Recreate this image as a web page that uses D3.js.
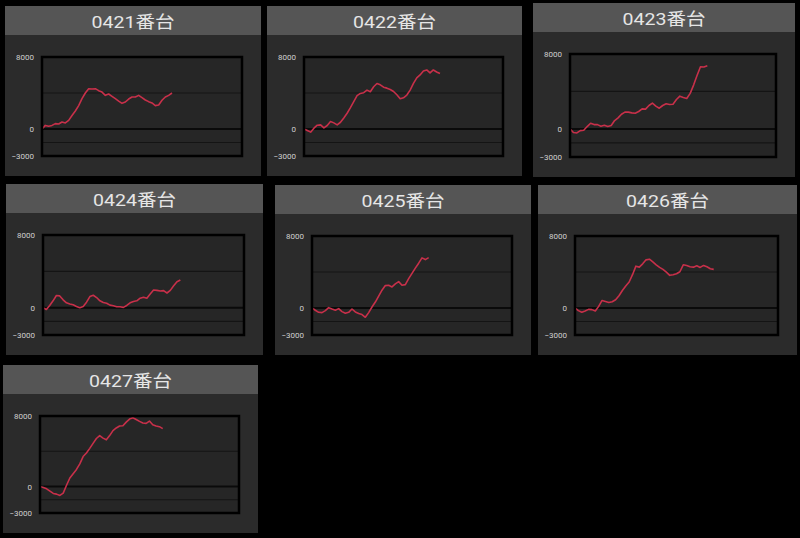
<!doctype html>
<html>
<head>
<meta charset="utf-8">
<style>
    body { margin: 0; background: #000; }
    svg { display: block; }
</style>
<script src="https://d3js.org/d3.v7.min.js"></script>
</head>
<body>
<script>
    // machine numbers / panel titles
    var titles = ["0421番台", "0422番台", "0423番台", "0424番台", "0425番台", "0426番台", "0427番台"];

    // y ticks shown at the left, and the horizontal lines inside the plot
    var yTicks = [8000, 0, -3000];
    var gridValues = [4000, 0, -1500];

    // slump values, one sample per step
    var s0421 = [0, 400, 300, 400, 600, 550, 780, 670, 960, 1500, 2000, 2600, 3370, 4000, 4480, 4440, 4480, 4260, 4100, 3740,
                 3890, 3630, 3370, 3100, 2850, 3000, 3330, 3550, 3550, 3740, 3480, 3220, 3040, 2890, 2600, 2670, 3190, 3550, 3740, 4000];
    var s0422 = [0, -170, -350, 90, 420, 460, 130, 390, 830, 680, 460, 750, 1230, 1750, 2370, 3030, 3700, 3950, 4030, 4320,
                 4140, 4690, 5060, 4910, 4650, 4540, 4390, 4170, 3800, 3360, 3470, 3770, 4320, 5060, 5680, 6010, 6450, 6560, 6230, 6560, 6340, 6160];
    var s0423 = [0, -390, -430, -180, -140, 250, 610, 460, 460, 290, 390, 250, 360, 890, 1180, 1570, 1790, 1790, 1710, 1680,
                 1860, 2140, 2110, 2500, 2750, 2430, 2210, 2500, 2680, 2610, 2640, 3140, 3500, 3360, 3250, 3790, 4680, 5710, 6640, 6610, 6750];
    var s0424 = [0, -200, 250, 760, 1350, 1300, 870, 540, 400, 320, 140, 0, 140, 610, 1230, 1370, 1120, 760, 580, 500,
                 290, 220, 110, 110, 40, 250, 540, 690, 760, 1050, 1160, 1050, 1520, 1950, 1910, 1840, 1880, 1620, 1910, 2420, 2850, 3050];
    var s0425 = [0, -250, -480, -510, -290, 40, -110, -250, -70, -400, -590, -480, -110, -440, -620, -730, -1030, -510, 110, 660,
                 1320, 1980, 2490, 2530, 2340, 2670, 2930, 2530, 2600, 3260, 3850, 4430, 4980, 5570, 5380, 5600];
    var s0426 = [0, -290, -480, -330, -150, -180, -330, 180, 840, 730, 620, 700, 920, 1360, 1940, 2450, 2890, 3700, 4650, 4540,
                 4910, 5350, 5420, 5130, 4800, 4510, 4290, 3990, 3630, 3700, 3810, 4030, 4800, 4730, 4580, 4540, 4690, 4510, 4730, 4580, 4360, 4290];
    var s0427 = [0, -100, -260, -520, -780, -860, -1010, -750, 150, 970, 1460, 1940, 2570, 3400, 3810, 4330, 4890, 5450, 5780, 5490,
                 5300, 5780, 6340, 6640, 6870, 6900, 7310, 7650, 7800, 7610, 7390, 7200, 7160, 7430, 7010, 6870, 6790, 6570];

    var series = [s0421, s0422, s0423, s0424, s0425, s0426, s0427];
    var xSteps = 60;

    // panel boxes on the screen: x, y, width, height
    var boxes = [
        [5, 6, 256, 170],
        [267, 6, 255, 170],
        [533, 3, 262, 174],
        [6, 184, 257, 171],
        [275, 185, 256, 170],
        [538, 185, 259, 170],
        [3, 365, 255, 168]
    ];

    var svg = d3.select("body").append("svg")
        .attr("width", 800)
        .attr("height", 538);

    svg.append("rect")
        .attr("width", 800)
        .attr("height", 538)
        .attr("fill", "#000");

    var headerH = 29;

    boxes.forEach(function(b, k) {
        var g = svg.append("g")
            .attr("transform", "translate(" + b[0] + "," + b[1] + ")");
        var w = b[2], h = b[3];

        g.append("rect")
            .attr("width", w)
            .attr("height", h)
            .attr("fill", "#2b2b2b");

        g.append("rect")
            .attr("width", w)
            .attr("height", headerH)
            .attr("fill", "#555555");

        // the screenshot is a bit stretched sideways, so widen the title
        g.append("text")
            .attr("transform", "translate(" + (w / 2) + "," + (headerH / 2 + 1) + ") scale(1.15,1)")
            .attr("text-anchor", "middle")
            .attr("dominant-baseline", "central")
            .attr("fill", "#e6e6e6")
            .style("font", "17px Roboto, 'Noto Sans CJK JP', sans-serif")
            .text(titles[k]);

        var left = 37, right = w - 19, top = 51, bottom = h - 20;

        var x = d3.scaleLinear().domain([0, xSteps]).range([left, right]);
        var y = d3.scaleLinear().domain([-3000, 8000]).range([bottom, top]);

        g.append("rect")
            .attr("x", left)
            .attr("y", top)
            .attr("width", right - left)
            .attr("height", bottom - top)
            .attr("fill", "#262626");

        g.selectAll(".grid")
            .data(gridValues)
            .enter()
            .append("line")
                .attr("class", "grid")
                .attr("x1", left)
                .attr("x2", right)
                .attr("y1", function(d) { return y(d); })
                .attr("y2", function(d) { return y(d); })
                .attr("stroke", function(d) { return d == 0 ? "#0a0a0a" : "#141414"; })
                .attr("stroke-width", function(d) { return d == 0 ? 2 : 1.2; });

        // y labels
        var axis = g.append("g")
            .attr("transform", "translate(" + (left - 3) + ",0)")
            .call(d3.axisLeft(y).tickValues(yTicks).tickFormat(d3.format("d")).tickSize(0).tickPadding(5));
        axis.select(".domain").remove();
        axis.selectAll("text")
            .attr("fill", "#d0d0d0")
            .style("font", "8px Roboto, sans-serif");

        g.append("path")
            .datum(series[k])
            .attr("fill", "none")
            .attr("stroke", "#c8304a")
            .attr("stroke-width", 1.6)
            .attr("stroke-linejoin", "round")
            .attr("d", d3.line()
                .x(function(d, i) { return x(i); })
                .y(function(d) { return y(d); }));

        g.append("rect")
            .attr("x", left)
            .attr("y", top)
            .attr("width", right - left)
            .attr("height", bottom - top)
            .attr("fill", "none")
            .attr("stroke", "#000")
            .attr("stroke-width", 2.5);
    });
</script>
</body>
</html>
